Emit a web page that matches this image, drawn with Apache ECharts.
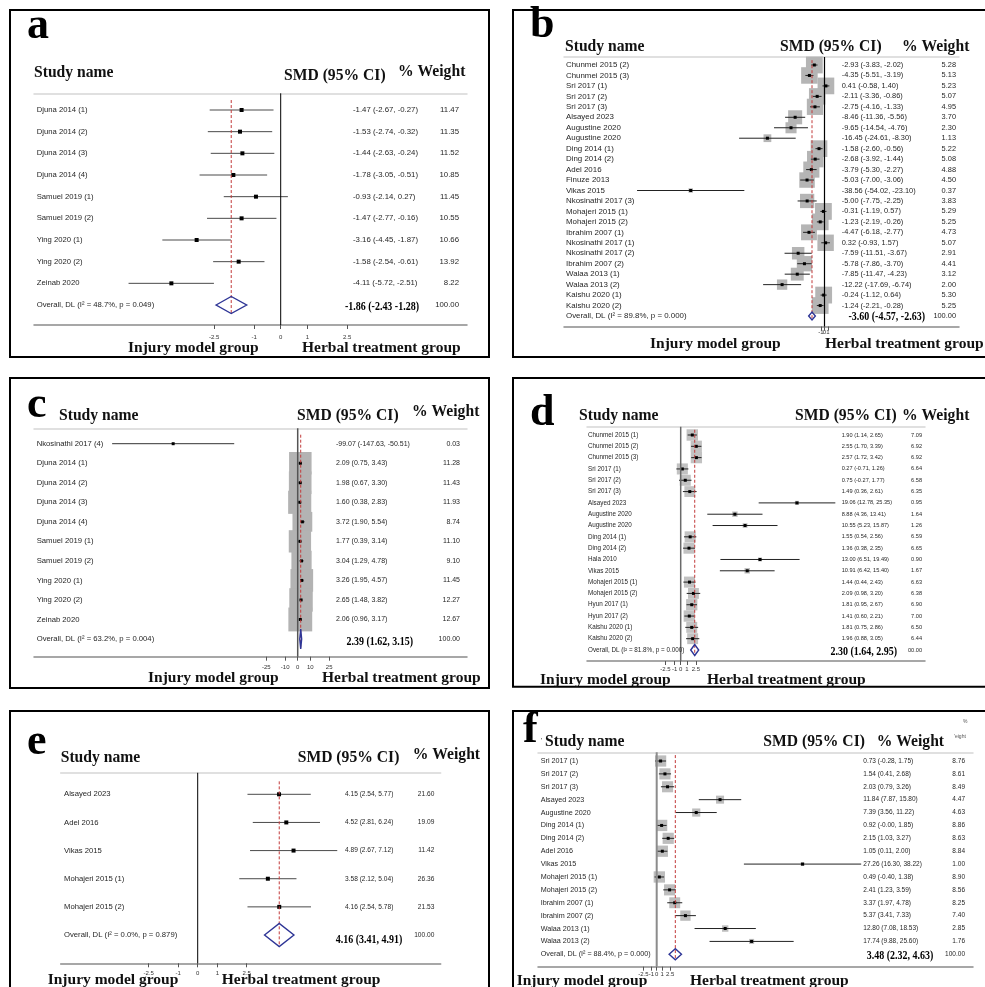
<!DOCTYPE html>
<html>
<head>
<meta charset="utf-8">
<title>Forest plots a–f</title>
<script src="https://cdn.jsdelivr.net/npm/echarts@6/dist/echarts.min.js"></script>
<style>
  html, body { margin: 0; padding: 0; background: #fff; }
  #chart { width: 985px; height: 987px; }
</style>
</head>
<body>
<div id="chart"></div>
<script>
// ---------- Panel a ----------
const aStudies = ['Djuna 2014 (1)', 'Djuna 2014 (2)', 'Djuna 2014 (3)', 'Djuna 2014 (4)', 'Samuel 2019 (1)', 'Samuel 2019 (2)', 'Ying 2020 (1)', 'Ying 2020 (2)', 'Zeinab 2020'];
const aSmd    = [-1.47, -1.53, -1.44, -1.78, -0.93, -1.47, -3.16, -1.58, -4.11];
const aLower  = [-2.67, -2.74, -2.63, -3.05, -2.14, -2.77, -4.45, -2.54, -5.72];
const aUpper  = [-0.27, -0.32, -0.24, -0.51, 0.27, -0.16, -1.87, -0.61, -2.51];
const aWeight = [11.47, 11.35, 11.52, 10.85, 11.45, 10.55, 10.66, 13.92, 8.22];
const aPooled = [-1.86, -2.43, -1.28];
const aI2 = 48.7, aP = 0.049;
const aTicks = [-2.5, -1, 0, 1, 2.5];

// ---------- Panel b ----------
const bStudies = ['Chunmei 2015 (2)', 'Chunmei 2015 (3)', 'Sri 2017 (1)', 'Sri 2017 (2)', 'Sri 2017 (3)', 'Alsayed 2023', 'Augustine 2020', 'Augustine 2020', 'Ding 2014 (1)', 'Ding 2014 (2)', 'Adel 2016', 'Finuze 2013', 'Vikas 2015', 'Nkosinathi 2017 (3)', 'Mohajeri 2015 (1)', 'Mohajeri 2015 (2)', 'Ibrahim 2007 (1)', 'Nkosinathi 2017 (1)', 'Nkosinathi 2017 (2)', 'Ibrahim 2007 (2)', 'Walaa 2013 (1)', 'Walaa 2013 (2)', 'Kaishu 2020 (1)', 'Kaishu 2020 (2)'];
const bSmd    = [-2.93, -4.35, 0.41, -2.11, -2.75, -8.46, -9.65, -16.45, -1.58, -2.68, -3.79, -5.03, -38.56, -5.00, -0.31, -1.23, -4.47, 0.32, -7.59, -5.78, -7.85, -12.22, -0.24, -1.24];
const bLower  = [-3.83, -5.51, -0.58, -3.36, -4.16, -11.36, -14.54, -24.61, -2.60, -3.92, -5.30, -7.00, -54.02, -7.75, -1.19, -2.19, -6.18, -0.93, -11.51, -7.86, -11.47, -17.69, -1.12, -2.21];
const bUpper  = [-2.02, -3.19, 1.40, -0.86, -1.33, -5.56, -4.76, -8.30, -0.56, -1.44, -2.27, -3.06, -23.10, -2.25, 0.57, -0.26, -2.77, 1.57, -3.67, -3.70, -4.23, -6.74, 0.64, -0.28];
const bWeight = [5.28, 5.13, 5.23, 5.07, 4.95, 3.70, 2.30, 1.13, 5.22, 5.08, 4.88, 4.50, 0.37, 3.83, 5.29, 5.25, 4.73, 5.07, 2.91, 4.41, 3.12, 2.00, 5.30, 5.25];
const bPooled = [-3.60, -4.57, -2.63];
const bI2 = 89.8, bP = 0.000;
const bTicks = [-2.5, -1, 0, 1, 2.5];

// ---------- Panel c ----------
const cStudies = ['Nkosinathi 2017 (4)', 'Djuna 2014 (1)', 'Djuna 2014 (2)', 'Djuna 2014 (3)', 'Djuna 2014 (4)', 'Samuel 2019 (1)', 'Samuel 2019 (2)', 'Ying 2020 (1)', 'Ying 2020 (2)', 'Zeinab 2020'];
const cSmd    = [-99.07, 2.09, 1.98, 1.60, 3.72, 1.77, 3.04, 3.26, 2.65, 2.06];
const cLower  = [-147.63, 0.75, 0.67, 0.38, 1.90, 0.39, 1.29, 1.95, 1.48, 0.96];
const cUpper  = [-50.51, 3.43, 3.30, 2.83, 5.54, 3.14, 4.78, 4.57, 3.82, 3.17];
const cWeight = [0.03, 11.28, 11.43, 11.93, 8.74, 11.10, 9.10, 11.45, 12.27, 12.67];
const cPooled = [2.39, 1.62, 3.15];
const cI2 = 63.2, cP = 0.004;
const cTicks = [-25, -10, 0, 10, 25];

// ---------- Panel d ----------
const dStudies = ['Chunmei 2015 (1)', 'Chunmei 2015 (2)', 'Chunmei 2015 (3)', 'Sri 2017 (1)', 'Sri 2017 (2)', 'Sri 2017 (3)', 'Alsayed 2023', 'Augustine 2020', 'Augustine 2020', 'Ding 2014 (1)', 'Ding 2014 (2)', 'Hala 2010', 'Vikas 2015', 'Mohajeri 2015 (1)', 'Mohajeri 2015 (2)', 'Hyun 2017 (1)', 'Hyun 2017 (2)', 'Kaishu 2020 (1)', 'Kaishu 2020 (2)'];
const dSmd    = [1.90, 2.55, 2.57, 0.27, 0.75, 1.49, 19.06, 8.88, 10.55, 1.55, 1.36, 13.00, 10.91, 1.44, 2.09, 1.81, 1.41, 1.81, 1.96];
const dLower  = [1.14, 1.70, 1.72, -0.71, -0.27, 0.36, 12.78, 4.36, 5.23, 0.54, 0.38, 6.51, 6.42, 0.44, 0.98, 0.95, 0.60, 0.75, 0.88];
const dUpper  = [2.65, 3.39, 3.42, 1.26, 1.77, 2.61, 25.35, 13.41, 15.87, 2.56, 2.35, 19.49, 15.40, 2.43, 3.20, 2.67, 2.21, 2.86, 3.05];
const dWeight = [7.09, 6.92, 6.92, 6.64, 6.58, 6.35, 0.95, 1.64, 1.26, 6.59, 6.65, 0.90, 1.67, 6.63, 6.38, 6.90, 7.00, 6.50, 6.44];
const dPooled = [2.30, 1.64, 2.95];
const dI2 = 81.8, dP = 0.000;
const dTicks = [-2.5, -1, 0, 1, 2.5];

// ---------- Panel e ----------
const eStudies = ['Alsayed 2023', 'Adel 2016', 'Vikas 2015', 'Mohajeri 2015 (1)', 'Mohajeri 2015 (2)'];
const eSmd    = [4.15, 4.52, 4.89, 3.58, 4.16];
const eLower  = [2.54, 2.81, 2.67, 2.12, 2.54];
const eUpper  = [5.77, 6.24, 7.12, 5.04, 5.78];
const eWeight = [21.60, 19.09, 11.42, 26.36, 21.53];
const ePooled = [4.16, 3.41, 4.91];
const eI2 = 0.0, eP = 0.879;
const eTicks = [-2.5, -1, 0, 1, 2.5];

// ---------- Panel f ----------
const fStudies = ['Sri 2017 (1)', 'Sri 2017 (2)', 'Sri 2017 (3)', 'Alsayed 2023', 'Augustine 2020', 'Ding 2014 (1)', 'Ding 2014 (2)', 'Adel 2016', 'Vikas 2015', 'Mohajeri 2015 (1)', 'Mohajeri 2015 (2)', 'Ibrahim 2007 (1)', 'Ibrahim 2007 (2)', 'Walaa 2013 (1)', 'Walaa 2013 (2)'];
const fSmd    = [0.73, 1.54, 2.03, 11.84, 7.39, 0.92, 2.15, 1.05, 27.26, 0.49, 2.41, 3.37, 5.37, 12.80, 17.74];
const fLower  = [-0.28, 0.41, 0.79, 7.87, 3.56, -0.00, 1.03, 0.11, 16.30, -0.40, 1.23, 1.97, 3.41, 7.08, 9.88];
const fUpper  = [1.75, 2.68, 3.26, 15.80, 11.22, 1.85, 3.27, 2.00, 38.22, 1.38, 3.59, 4.78, 7.33, 18.53, 25.60];
const fWeight = [8.76, 8.61, 8.49, 4.47, 4.63, 8.86, 8.63, 8.84, 1.00, 8.90, 8.56, 8.25, 7.40, 2.85, 1.76];
const fPooled = [3.48, 2.32, 4.63];
const fI2 = 88.4, fP = 0.000;
const fTicks = [-2.5, -1, 0, 1, 2.5];

// ---------- drawing ----------
const SANS = '"Liberation Sans", Arial, Helvetica, sans-serif';
const SERIF = '"Liberation Serif", "Times New Roman", serif';
const DIAMOND = '#2e3596';
const DASH = '#c23a3a';

// signed fixed-2 format that keeps "-0.00"
function fmt(v) {
  return (v < 0 || Object.is(v, -0)) ? '-' + Math.abs(v).toFixed(2) : v.toFixed(2);
}

function txt(x, y, text, size, align, color) {
  return {
    type: 'text', x: x, y: y, silent: true,
    style: { text: text, fill: color || '#262626', fontSize: size, fontFamily: SANS, align: align, verticalAlign: 'middle' }
  };
}

// Per-panel layout: plot frame, table geometry and axis scale
const panels = [
  { letter: 'a', studies: aStudies, smd: aSmd, lower: aLower, upper: aUpper, weight: aWeight, pooled: aPooled, i2: aI2, p: aP, ticks: aTicks,
    frame: [10, 10, 479, 347], letterPos: [27, 27],
    gridL: 34, gridR: 467, gridT: 93.3, gridB: 325, zeroX: 280.7, scale: 26.6, y0: 110, yN: 305,
    nameX: 36.7, nameSize: 7.7, numSize: 7.8, smdX: 353, wtR: 459, pooledR: 419, pooledDy: 2, pooledSep: ' ',
    diamondH: 17, boxK: 0, boxColor: '#b8b8b8', markSize: 4, ciColor: '#4a4a4a',
    zeroColor: '#000', zeroWidth: 1, labelMargin: 9,
    heads: [[34, 73], [284, 76], [398, 72]], foot: [[128, 348], [302, 348]] },
  { letter: 'b', studies: bStudies, smd: bSmd, lower: bLower, upper: bUpper, weight: bWeight, pooled: bPooled, i2: bI2, p: bP, ticks: bTicks,
    frame: [513, 10, 480, 347], letterPos: [530, 26],
    gridL: 564, gridR: 959, gridT: 57, gridB: 326.5, zeroX: 824.5, scale: 3.47, y0: 65, yN: 316,
    nameX: 566, nameSize: 7.9, numSize: 7.4, smdX: 841.7, wtR: 956, pooledR: 925, pooledDy: 1, pooledSep: ', ',
    diamondH: 8, boxK: 7.3, boxColor: '#b5b5b5', markSize: 3, ciColor: '#222',
    zeroColor: '#000', zeroWidth: 1.2, labelMargin: 3,
    heads: [[565, 47], [780, 47], [902, 47]], foot: [[650, 344], [825, 344]] },
  { letter: 'c', studies: cStudies, smd: cSmd, lower: cLower, upper: cUpper, weight: cWeight, pooled: cPooled, i2: cI2, p: cP, ticks: cTicks,
    frame: [10, 378, 479, 310], letterPos: [27, 406],
    gridL: 34, gridR: 467, gridT: 428.3, gridB: 656.7, zeroX: 297.7, scale: 1.257, y0: 443.7, yN: 639,
    nameX: 36.7, nameSize: 7.7, numSize: 7.0, smdX: 336, wtR: 460, pooledR: 413, pooledDy: 3, pooledSep: ', ',
    diamondH: 20, boxK: 6.7, boxColor: '#b3b3b3', markSize: 3, ciColor: '#333',
    zeroColor: '#555', zeroWidth: 1.5, labelMargin: 8,
    heads: [[59, 416], [297, 416], [412, 412]], foot: [[148, 678], [322, 678]] },
  { letter: 'd', studies: dStudies, smd: dSmd, lower: dLower, upper: dUpper, weight: dWeight, pooled: dPooled, i2: dI2, p: dP, ticks: dTicks,
    frame: [513, 378, 480, 308.7], letterPos: [530, 414],
    gridL: 587, gridR: 925, gridT: 426.7, gridB: 661, zeroX: 680.7, scale: 6.1, y0: 435, yN: 650,
    nameX: 588, nameSize: 6.3, numSize: 5.6, smdX: 841.7, wtR: 922, pooledR: 897, pooledDy: 2, pooledSep: ', ', pooledWtText: '00.00',
    diamondH: 11, boxK: 4.3, boxColor: '#c2c2c2', markSize: 3, ciColor: '#222',
    zeroColor: '#6a6a6a', zeroWidth: 1.5, labelMargin: 5,
    heads: [[579, 416], [795, 416], [902, 416]], foot: [[540, 680], [707, 680]] },
  { letter: 'e', studies: eStudies, smd: eSmd, lower: eLower, upper: eUpper, weight: eWeight, pooled: ePooled, i2: eI2, p: eP, ticks: eTicks,
    frame: [10, 711, 479, 300], letterPos: [27, 743],
    gridL: 60.7, gridR: 440.7, gridT: 772.7, gridB: 963.3, zeroX: 197.7, scale: 19.6, y0: 794.3, yN: 935,
    nameX: 64, nameSize: 7.7, numSize: 6.6, smdX: 345, wtR: 434.3, pooledR: 402.3, pooledDy: 5, pooledSep: ', ',
    diamondH: 23, boxK: 0, boxColor: '#b8b8b8', markSize: 4, ciColor: '#4a4a4a',
    zeroColor: '#000', zeroWidth: 1, labelMargin: 7,
    heads: [[60.7, 757.7], [297.7, 757.7], [412.7, 755]], foot: [[47.7, 980], [221.7, 980]] },
  { letter: 'f', studies: fStudies, smd: fSmd, lower: fLower, upper: fUpper, weight: fWeight, pooled: fPooled, i2: fI2, p: fP, ticks: fTicks,
    frame: [513, 711, 480, 300], letterPos: [523, 731],
    gridL: 538, gridR: 973, gridT: 752.3, gridB: 966.7, zeroX: 656.7, scale: 5.35, y0: 761, yN: 954.3,
    nameX: 540.7, nameSize: 7.2, numSize: 6.5, smdX: 863.3, wtR: 965, pooledR: 933.3, pooledDy: 1, pooledSep: ', ',
    diamondH: 11, boxK: 3.8, boxColor: '#bdbdbd', markSize: 3, ciColor: '#222',
    zeroColor: '#8c8c8c', zeroWidth: 2, labelMargin: 5,
    heads: [[545, 742], [763.3, 742], [876.7, 742]], foot: [[516.7, 981], [690, 981]] }
];

function rowItem(P) {
  return function (params, api) {
    const i = params.dataIndex;
    const row = api.value(1);
    const c = api.coord([api.value(0), row]);
    const cx = c[0], cy = c[1];
    const xl = api.coord([api.value(2), row])[0];
    const xh = api.coord([api.value(3), row])[0];
    const kids = [];
    const side = P.boxK * Math.sqrt(api.value(4));
    if (side > 0) {
      kids.push({ type: 'rect', shape: { x: cx - side / 2, y: cy - side / 2, width: side, height: side }, style: { fill: P.boxColor } });
    }
    kids.push({ type: 'line', shape: { x1: xl, y1: cy, x2: xh, y2: cy }, style: { stroke: P.ciColor, lineWidth: 1 } });
    const m = P.markSize;
    kids.push({ type: 'rect', shape: { x: cx - m / 2, y: cy - m / 2, width: m, height: m }, style: { fill: '#000' } });
    kids.push(txt(P.nameX, cy, P.studies[i], P.nameSize, 'left'));
    kids.push(txt(P.smdX, cy, fmt(P.smd[i]) + ' (' + fmt(P.lower[i]) + ', ' + fmt(P.upper[i]) + ')', P.numSize, 'left'));
    kids.push(txt(P.wtR, cy, P.weight[i].toFixed(2), P.numSize, 'right'));
    return { type: 'group', children: kids };
  };
}

function pooledItem(P) {
  return function (params, api) {
    const row = api.value(1);
    const c = api.coord([api.value(0), row]);
    const cx = c[0], cy = c[1];
    const xl = api.coord([api.value(2), row])[0];
    const xh = api.coord([api.value(3), row])[0];
    const h = P.diamondH / 2;
    const label = 'Overall, DL (I\u00b2 = ' + P.i2.toFixed(1) + '%, p = ' + P.p.toFixed(3) + ')';
    const est = fmt(P.pooled[0]) + ' (' + fmt(P.pooled[1]) + P.pooledSep + fmt(P.pooled[2]) + ')';
    return { type: 'group', children: [
      { type: 'polygon', shape: { points: [[xl, cy], [cx, cy - h], [xh, cy], [cx, cy + h]] },
        style: { fill: 'none', stroke: DIAMOND, lineWidth: 1.4 } },
      txt(P.nameX, cy, label, P.nameSize, 'left'),
      { type: 'text', x: P.pooledR, y: cy + P.pooledDy, scaleX: 0.74, silent: true,
        style: { text: est, fill: '#000', fontSize: 13.5, fontFamily: SERIF, fontWeight: 'bold', align: 'right', verticalAlign: 'middle' } },
      txt(P.wtR, cy, P.pooledWtText || '100.00', P.numSize, 'right')
    ] };
  };
}

const grid = [], xAxis = [], yAxis = [], series = [], graphic = [];

panels.forEach(function (P, k) {
  const N = P.studies.length;
  const step = (P.yN - P.y0) / N;
  const xMin = (P.gridL - P.zeroX) / P.scale;
  const xMax = (P.gridR - P.zeroX) / P.scale;
  const yMin = -(P.y0 - P.gridT) / step;
  const yMax = N + (P.gridB - P.yN) / step;

  grid.push({ left: P.gridL, top: P.gridT, width: P.gridR - P.gridL, height: P.gridB - P.gridT, containLabel: false });
  xAxis.push({
    gridIndex: k, type: 'value', position: 'bottom', min: xMin, max: xMax,
    axisLine: { onZero: false, lineStyle: { color: '#8a8a8a', width: 1.5 } },
    axisTick: { customValues: P.ticks, length: 4, lineStyle: { color: '#555', width: 1 } },
    axisLabel: { customValues: P.ticks, fontSize: 6, color: '#333', margin: P.labelMargin, fontFamily: SANS, hideOverlap: false },
    splitLine: { show: false }
  });
  xAxis.push({
    gridIndex: k, type: 'value', position: 'top', min: xMin, max: xMax,
    axisLine: { onZero: false, lineStyle: { color: '#d6d6d6', width: 1.5 } },
    axisTick: { show: false }, axisLabel: { show: false }, splitLine: { show: false }
  });
  yAxis.push({ gridIndex: k, type: 'value', inverse: true, min: yMin, max: yMax, show: false });

  const xi = 2 * k;
  series.push({
    type: 'custom', xAxisIndex: xi, yAxisIndex: k, z: 2, silent: true,
    renderItem: rowItem(P),
    data: P.studies.map(function (s, i) { return [P.smd[i], i, P.lower[i], P.upper[i], P.weight[i]]; }),
    encode: { x: [0, 2, 3], y: 1 }
  });
  series.push({
    type: 'line', xAxisIndex: xi, yAxisIndex: k, z: 3, silent: true, symbol: 'none',
    lineStyle: { color: P.zeroColor, width: P.zeroWidth },
    data: [[0, yMin], [0, yMax]]
  });
  series.push({
    type: 'line', xAxisIndex: xi, yAxisIndex: k, z: 4, silent: true, symbol: 'none',
    lineStyle: { color: DASH, width: 1, type: [3, 2] },
    data: [[P.pooled[0], -0.46], [P.pooled[0], N + (P.diamondH / 2) / step]]
  });
  series.push({
    type: 'custom', xAxisIndex: xi, yAxisIndex: k, z: 5, silent: true,
    renderItem: pooledItem(P),
    data: [[P.pooled[0], N, P.pooled[1], P.pooled[2]]],
    encode: { x: [0, 2, 3], y: 1 }
  });

  // frame, panel letter, column headings and group captions
  graphic.push({ type: 'rect', silent: true, shape: { x: P.frame[0], y: P.frame[1], width: P.frame[2], height: P.frame[3] },
    style: { fill: 'none', stroke: '#000', lineWidth: 2 } });
  graphic.push({ type: 'text', silent: true, x: P.letterPos[0], y: P.letterPos[1],
    style: { text: P.letter, fill: '#000', fontSize: 44, fontFamily: SERIF, fontWeight: 'bold', align: 'left', verticalAlign: 'middle' } });
  const headTexts = ['Study name', 'SMD (95% CI)', '% Weight'];
  P.heads.forEach(function (h, j) {
    graphic.push({ type: 'text', silent: true, x: h[0], y: h[1], scaleX: 0.92,
      style: { text: headTexts[j], fill: '#111', fontSize: 17, fontFamily: SERIF, fontWeight: 'bold', align: 'left', verticalAlign: 'middle' } });
  });
  const footTexts = ['Injury model group', 'Herbal treatment group'];
  P.foot.forEach(function (f, j) {
    graphic.push({ type: 'text', silent: true, x: f[0], y: f[1],
      style: { text: footTexts[j], fill: '#111', fontSize: 15.5, fontFamily: SERIF, fontWeight: 'bold', align: 'left', verticalAlign: 'middle' } });
  });
});

// small stray column captions in panel f
graphic.push(txt(963, 722, '%', 5, 'left', '#555'));
graphic.push(txt(954, 737, "'eight", 5, 'left', '#555'));
graphic.push(txt(541, 741, "'", 7, 'left', '#333'));

const chart = echarts.init(document.getElementById('chart'), null, { renderer: 'canvas' });
chart.setOption({
  backgroundColor: '#fff',
  animation: false,
  grid: grid,
  xAxis: xAxis,
  yAxis: yAxis,
  series: series,
  graphic: { elements: graphic }
});
</script>
</body>
</html>
